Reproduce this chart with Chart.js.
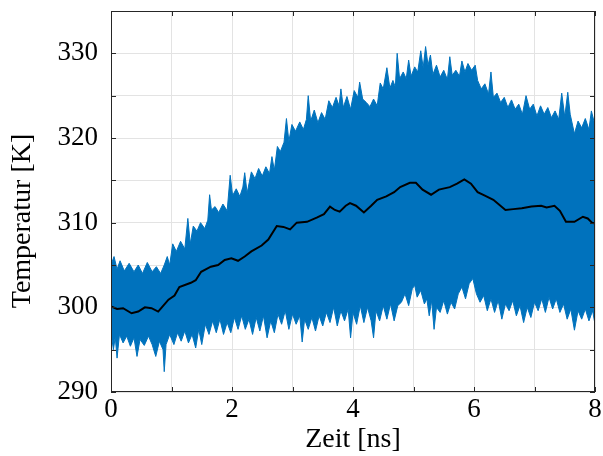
<!DOCTYPE html>
<html>
<head>
<meta charset="utf-8">
<script src="https://cdn.jsdelivr.net/npm/chart.js@4.4.1/dist/chart.umd.min.js"></script>
<style>
    html, body { margin: 0; padding: 0; background: #ffffff; }
    #wrap { width: 603px; height: 456px; }
</style>
</head>
<body>
<div id="wrap"><canvas id="tempGraph" width="603" height="456"></canvas></div>
<script>
// upper edge of the raw signal  [Zeit ns, Temperatur K]
const upperEdge = [
    [0.00, 305.0], [0.05, 306.0], [0.10, 304.5], [0.15, 305.5], [0.22, 304.3], [0.30, 305.2],
    [0.38, 304.2], [0.45, 305.0], [0.52, 304.0], [0.60, 305.3], [0.68, 304.2], [0.75, 304.8],
    [0.82, 304.0], [0.88, 305.0], [0.93, 306.0], [0.97, 305.0], [1.02, 307.5], [1.08, 306.6],
    [1.15, 307.8], [1.22, 306.9], [1.27, 310.5], [1.31, 307.5], [1.36, 309.6], [1.42, 309.0],
    [1.48, 310.0], [1.55, 309.3], [1.60, 310.3], [1.63, 313.3], [1.66, 311.5], [1.72, 311.9],
    [1.78, 311.2], [1.85, 312.2], [1.92, 311.4], [1.97, 315.6], [2.01, 313.2], [2.07, 314.0],
    [2.13, 313.1], [2.18, 314.2], [2.21, 315.9], [2.25, 313.5], [2.32, 316.0], [2.38, 315.2],
    [2.44, 316.4], [2.50, 315.5], [2.56, 316.6], [2.62, 315.8], [2.66, 317.8], [2.70, 316.2],
    [2.75, 319.0], [2.80, 318.4], [2.86, 319.5], [2.90, 322.3], [2.94, 319.6], [2.99, 321.6],
    [3.05, 320.8], [3.12, 321.9], [3.18, 321.0], [3.23, 322.2], [3.26, 325.0], [3.30, 322.0],
    [3.36, 323.3], [3.42, 321.8], [3.48, 323.0], [3.54, 322.2], [3.60, 324.4], [3.66, 323.6],
    [3.72, 324.8], [3.77, 323.8], [3.80, 325.8], [3.84, 323.6], [3.90, 324.9], [3.96, 323.4],
    [4.02, 325.6], [4.08, 324.8], [4.11, 326.6], [4.16, 324.6], [4.22, 324.2], [4.28, 323.7],
    [4.34, 324.6], [4.40, 323.8], [4.45, 326.5], [4.50, 325.8], [4.56, 328.3], [4.61, 325.9],
    [4.66, 326.8], [4.70, 326.0], [4.73, 330.0], [4.77, 327.0], [4.83, 327.8], [4.88, 327.0],
    [4.92, 329.2], [4.96, 327.3], [5.02, 328.4], [5.07, 327.8], [5.12, 330.3], [5.16, 328.3],
    [5.20, 330.8], [5.24, 328.6], [5.28, 329.8], [5.32, 327.5], [5.38, 328.6], [5.44, 327.2],
    [5.50, 328.0], [5.56, 326.9], [5.60, 329.6], [5.64, 327.4], [5.70, 328.0], [5.76, 327.3],
    [5.80, 329.1], [5.85, 327.8], [5.90, 328.8], [5.96, 328.0], [6.02, 328.6], [6.06, 326.8],
    [6.12, 325.8], [6.18, 326.4], [6.24, 325.2], [6.28, 327.8], [6.32, 324.8], [6.38, 325.3],
    [6.44, 324.2], [6.50, 324.8], [6.56, 323.6], [6.62, 324.5], [6.68, 323.4], [6.74, 324.0],
    [6.80, 322.8], [6.86, 325.0], [6.92, 323.4], [6.98, 324.0], [7.04, 322.6], [7.10, 323.8],
    [7.16, 322.8], [7.22, 323.6], [7.28, 322.4], [7.34, 323.2], [7.40, 322.2], [7.45, 325.3],
    [7.50, 322.5], [7.55, 325.4], [7.59, 322.8], [7.66, 320.5], [7.72, 322.0], [7.78, 321.2],
    [7.84, 322.3], [7.90, 321.0], [7.94, 323.2], [8.00, 321.5]
];

// lower edge of the raw signal
const lowerEdge = [
    [0.00, 297.0], [0.04, 295.0], [0.07, 296.5], [0.10, 294.0], [0.14, 296.8], [0.20, 295.8],
    [0.26, 296.6], [0.32, 295.4], [0.38, 296.4], [0.43, 294.2], [0.48, 296.2], [0.55, 295.5],
    [0.62, 296.6], [0.68, 295.6], [0.74, 294.2], [0.80, 296.0], [0.86, 295.0], [0.88, 292.4],
    [0.91, 295.6], [0.97, 296.8], [1.04, 295.6], [1.10, 297.0], [1.16, 296.0], [1.22, 297.2],
    [1.28, 295.8], [1.34, 296.8], [1.40, 295.2], [1.45, 297.4], [1.50, 295.6], [1.56, 298.0],
    [1.62, 296.8], [1.68, 298.4], [1.74, 297.0], [1.80, 298.6], [1.86, 296.8], [1.92, 298.2],
    [1.98, 297.0], [2.04, 298.8], [2.10, 297.4], [2.16, 299.0], [2.22, 297.4], [2.28, 298.6],
    [2.34, 296.8], [2.40, 298.8], [2.46, 297.2], [2.52, 299.0], [2.58, 296.4], [2.64, 298.4],
    [2.70, 297.0], [2.76, 299.2], [2.82, 298.0], [2.88, 299.6], [2.94, 297.4], [3.00, 299.2],
    [3.06, 298.0], [3.12, 299.0], [3.16, 295.9], [3.20, 298.6], [3.26, 297.4], [3.32, 298.8],
    [3.38, 297.2], [3.44, 299.0], [3.50, 297.8], [3.56, 299.4], [3.62, 298.2], [3.68, 300.0],
    [3.74, 297.8], [3.80, 299.6], [3.86, 298.4], [3.92, 299.8], [3.96, 296.4], [4.00, 299.4],
    [4.06, 298.0], [4.12, 300.2], [4.18, 298.2], [4.24, 300.0], [4.30, 298.4], [4.34, 296.4],
    [4.38, 299.6], [4.44, 298.4], [4.50, 300.2], [4.56, 298.6], [4.62, 300.4], [4.68, 298.4],
    [4.74, 300.2], [4.80, 300.6], [4.86, 301.6], [4.92, 300.2], [4.98, 302.2], [5.02, 302.6],
    [5.06, 301.2], [5.12, 302.0], [5.18, 300.4], [5.22, 301.0], [5.26, 299.0], [5.30, 300.8],
    [5.34, 297.4], [5.38, 300.0], [5.44, 299.4], [5.50, 300.8], [5.56, 299.2], [5.62, 300.6],
    [5.68, 299.8], [5.74, 301.6], [5.80, 302.4], [5.86, 301.0], [5.92, 302.8], [5.98, 303.4],
    [6.04, 301.6], [6.10, 300.6], [6.16, 301.4], [6.22, 299.6], [6.28, 301.0], [6.34, 299.4],
    [6.40, 300.8], [6.46, 298.6], [6.52, 300.4], [6.58, 299.6], [6.64, 300.8], [6.70, 299.0],
    [6.76, 300.2], [6.82, 298.2], [6.88, 300.0], [6.94, 298.8], [7.00, 300.6], [7.06, 299.6],
    [7.12, 301.0], [7.18, 299.4], [7.24, 301.2], [7.30, 299.8], [7.36, 301.0], [7.42, 299.4],
    [7.48, 300.4], [7.54, 298.6], [7.60, 299.8], [7.66, 297.3], [7.72, 299.6], [7.78, 298.6],
    [7.84, 299.8], [7.90, 298.4], [7.96, 299.6], [8.00, 298.0]
];

// gleitender Mittelwert (black line)
const meanTime = [0, 0.1, 0.2, 0.34, 0.45, 0.56, 0.67, 0.78, 0.84, 0.95,
    1.05, 1.13, 1.32, 1.4, 1.49, 1.65, 1.77, 1.88, 1.99, 2.1,
    2.21, 2.32, 2.49, 2.6, 2.74, 2.85, 2.96, 3.07, 3.24, 3.4,
    3.52, 3.62, 3.7, 3.78, 3.88, 3.95, 4.05, 4.18, 4.3, 4.4,
    4.55, 4.68, 4.78, 4.94, 5.04, 5.15, 5.29, 5.42, 5.6, 5.72,
    5.84, 5.95, 6.06, 6.18, 6.32, 6.52, 6.65, 6.79, 6.95, 7.11,
    7.2, 7.33, 7.42, 7.52, 7.66, 7.8, 7.88, 7.95, 8.0];
const meanTemp = [300.1, 299.8, 299.9, 299.3, 299.5, 300.0, 299.9, 299.5, 300.0, 300.9,
    301.4, 302.4, 302.9, 303.2, 304.2, 304.8, 305.0, 305.6, 305.8, 305.5,
    306.0, 306.6, 307.3, 308.0, 309.6, 309.5, 309.2, 310.0, 310.1, 310.6,
    311.0, 311.9, 311.5, 311.3, 312.0, 312.3, 312.0, 311.2, 312.0, 312.7,
    313.1, 313.6, 314.2, 314.7, 314.7, 313.9, 313.3, 313.9, 314.2, 314.6,
    315.1, 314.6, 313.6, 313.2, 312.7, 311.5, 311.6, 311.7, 311.9, 312.0,
    311.8, 312.0, 311.4, 310.1, 310.1, 310.7, 310.5, 310.0, 309.9];

const xLabels = [0, 2, 4, 6, 8];
const yLabels = [290, 300, 310, 320, 330];

const blue = '#0072BD';
const axisColor = '#262626';
const serif = "'Liberation Serif', 'DejaVu Serif', serif";

const toPoints = (pairs) => pairs.map(p => ({ x: p[0], y: p[1] }));

// box with inward ticks + y title like matlab
const framePlugin = {
    id: 'frame',
    afterDraw(chart) {
        const c = chart.ctx;
        const a = chart.chartArea;
        const xs = chart.scales.x;
        const ys = chart.scales.y;
        c.save();
        c.strokeStyle = axisColor;
        c.lineWidth = 1;
        c.strokeRect(a.left + 0.5, a.top + 0.5, a.right - a.left - 1, a.bottom - a.top - 1);
        c.beginPath();
        for (let v = 0; v <= 8; v++) {
            const px = Math.round(xs.getPixelForValue(v)) + 0.5;
            c.moveTo(px, a.bottom); c.lineTo(px, a.bottom - 5);
            c.moveTo(px, a.top); c.lineTo(px, a.top + 5);
        }
        for (let v = 290; v <= 335; v += 5) {
            const py = Math.round(ys.getPixelForValue(v)) + 0.5;
            c.moveTo(a.left, py); c.lineTo(a.left + 5, py);
            c.moveTo(a.right, py); c.lineTo(a.right - 5, py);
        }
        c.stroke();

        c.fillStyle = '#000';
        c.font = '28px ' + serif;
        c.textAlign = 'center';
        c.textBaseline = 'middle';
        c.translate(23, 221);
        c.rotate(-Math.PI / 2);
        c.fillText('Temperatur [K]', 0, 0);
        c.restore();
    }
};

const ctx = document.getElementById('tempGraph');

const data = {
    datasets: [
        {
            label: 'Mittelwert',
            data: meanTime.map((t, i) => ({ x: t, y: meanTemp[i] })),
            borderColor: '#000000',
            borderWidth: 2,
            pointRadius: 0,
            fill: false,
            order: 0
        },
        {
            label: 'oben',
            data: toPoints(upperEdge),
            borderColor: blue,
            borderWidth: 1,
            pointRadius: 0,
            fill: false,
            order: 1
        },
        {
            label: 'unten',
            data: toPoints(lowerEdge),
            borderColor: blue,
            backgroundColor: blue,
            borderWidth: 1,
            pointRadius: 0,
            fill: '-1',
            order: 2
        }
    ]
};

const config = {
    type: 'line',
    data: data,
    options: {
        responsive: false,
        animation: false,
        devicePixelRatio: 1,
        layout: { padding: { left: 0, top: 11, right: 8, bottom: 0 } },
        plugins: {
            legend: { display: false },
            tooltip: { enabled: false }
        },
        scales: {
            x: {
                type: 'linear',
                min: 0,
                max: 8,
                border: { display: false },
                grid: { color: '#e3e3e3', drawTicks: false },
                ticks: {
                    stepSize: 1,
                    autoSkip: false,
                    maxRotation: 0,
                    padding: 2,
                    color: '#000',
                    font: { family: serif, size: 27 },
                    callback: (v) => xLabels.includes(v) ? String(v) : ''
                },
                title: {
                    display: true,
                    text: 'Zeit [ns]',
                    color: '#000',
                    font: { family: serif, size: 28 },
                    padding: { top: -8, bottom: 0 }
                },
                afterFit: (scale) => {
                    scale.height = 64;
                    scale.paddingLeft = 0;
                    scale.paddingRight = 0;
                }
            },
            y: {
                type: 'linear',
                min: 290,
                max: 335,
                border: { display: false },
                grid: { color: '#e3e3e3', drawTicks: false },
                ticks: {
                    stepSize: 5,
                    autoSkip: false,
                    padding: 13,
                    color: '#000',
                    font: { family: serif, size: 27 },
                    callback: (v) => yLabels.includes(v) ? String(v) : ''
                },
                afterFit: (scale) => {
                    scale.width = 111;
                    scale.paddingTop = 0;
                    scale.paddingBottom = 0;
                }
            }
        }
    },
    plugins: [framePlugin]
};

const tempChart = new Chart(ctx, config);
</script>
</body>
</html>
